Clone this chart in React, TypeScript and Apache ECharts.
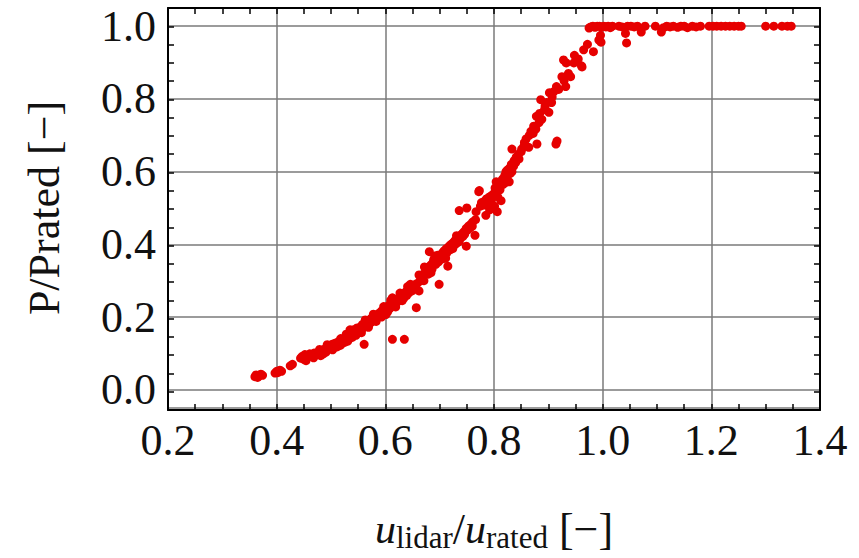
import React, { useEffect, useRef } from "react";
import * as echarts from "echarts";

// Axis settings (tick labels)
const xTicks = [0.2, 0.4, 0.6, 0.8, 1.0, 1.2, 1.4];
const yTicks = [0.0, 0.2, 0.4, 0.6, 0.8, 1.0];

const lowWind: [number, number][] = [
  [0.360, 0.036], [0.362, 0.041], [0.365, 0.034], [0.368, 0.039], [0.371, 0.043], [0.374, 0.040],
  [0.397, 0.046], [0.400, 0.051], [0.402, 0.047], [0.406, 0.054], [0.409, 0.051],
  [0.425, 0.066], [0.429, 0.070],
  [0.444, 0.087], [0.447, 0.092], [0.450, 0.084], [0.454, 0.080], [0.458, 0.095], [0.461, 0.099],
  [0.465, 0.092], [0.469, 0.101], [0.473, 0.097], [0.477, 0.104], [0.481, 0.094], [0.484, 0.108],
  [0.488, 0.112], [0.491, 0.104], [0.495, 0.116], [0.498, 0.121], [0.452, 0.097], [0.468, 0.088],
  [0.479, 0.111], [0.486, 0.099], [0.493, 0.124],
];

const partLoadLower: [number, number][] = [
  [0.500, 0.118], [0.502, 0.125], [0.503, 0.110], [0.505, 0.121], [0.507, 0.128],
  [0.510, 0.126], [0.511, 0.118], [0.513, 0.132], [0.515, 0.130], [0.517, 0.122],
  [0.520, 0.135], [0.521, 0.128], [0.523, 0.140], [0.525, 0.138], [0.526, 0.131],
  [0.528, 0.153], [0.529, 0.145], [0.532, 0.142], [0.533, 0.150], [0.535, 0.165], [0.536, 0.147],
  [0.539, 0.144], [0.540, 0.156], [0.543, 0.160], [0.544, 0.152], [0.547, 0.166], [0.548, 0.170],
  [0.550, 0.158], [0.551, 0.163], [0.553, 0.172], [0.555, 0.167], [0.558, 0.180], [0.559, 0.170],
  [0.560, 0.175], [0.561, 0.125], [0.562, 0.176], [0.564, 0.183], [0.566, 0.185], [0.567, 0.178],
  [0.570, 0.190], [0.571, 0.182], [0.573, 0.195], [0.574, 0.186], [0.576, 0.199], [0.577, 0.192],
  [0.580, 0.196], [0.581, 0.203], [0.584, 0.205], [0.585, 0.199], [0.588, 0.210], [0.589, 0.202],
  [0.591, 0.208], [0.592, 0.215], [0.594, 0.218], [0.596, 0.212], [0.598, 0.222], [0.599, 0.214],
  [0.601, 0.207], [0.602, 0.226], [0.605, 0.230], [0.606, 0.220], [0.608, 0.234], [0.609, 0.225],
  [0.611, 0.239], [0.612, 0.230], [0.613, 0.253], [0.613, 0.139], [0.616, 0.244], [0.617, 0.236],
  [0.620, 0.248], [0.621, 0.240], [0.624, 0.252], [0.625, 0.245], [0.628, 0.258], [0.629, 0.250],
  [0.631, 0.245], [0.632, 0.262], [0.635, 0.139], [0.636, 0.266], [0.638, 0.270], [0.639, 0.259],
  [0.642, 0.275], [0.643, 0.266], [0.645, 0.280], [0.646, 0.290], [0.648, 0.284], [0.649, 0.272],
  [0.652, 0.288], [0.653, 0.278], [0.657, 0.226], [0.658, 0.292], [0.662, 0.272], [0.662, 0.316],
  [0.663, 0.298], [0.518, 0.141], [0.531, 0.134], [0.541, 0.165], [0.546, 0.150], [0.556, 0.157],
  [0.563, 0.192], [0.569, 0.172], [0.578, 0.208], [0.583, 0.188], [0.593, 0.200], [0.597, 0.229],
  [0.604, 0.214], [0.610, 0.246], [0.619, 0.228], [0.627, 0.266], [0.634, 0.252], [0.641, 0.284],
];

const partLoadMiddle: [number, number][] = [
  [0.666, 0.305], [0.667, 0.312], [0.670, 0.318], [0.671, 0.300], [0.674, 0.322], [0.675, 0.330],
  [0.678, 0.335], [0.679, 0.318], [0.681, 0.380], [0.682, 0.340], [0.685, 0.345], [0.686, 0.332],
  [0.688, 0.350], [0.689, 0.358], [0.692, 0.355], [0.693, 0.345], [0.695, 0.362], [0.696, 0.370],
  [0.699, 0.290], [0.700, 0.365], [0.702, 0.372], [0.703, 0.360], [0.705, 0.360], [0.706, 0.378],
  [0.708, 0.382], [0.709, 0.370], [0.712, 0.388], [0.713, 0.376], [0.715, 0.340], [0.716, 0.392],
  [0.718, 0.396], [0.719, 0.385], [0.721, 0.400], [0.722, 0.392], [0.725, 0.405], [0.726, 0.398],
  [0.728, 0.410], [0.729, 0.400], [0.732, 0.415], [0.733, 0.405], [0.735, 0.420], [0.736, 0.408],
  [0.736, 0.493], [0.738, 0.425], [0.739, 0.418], [0.742, 0.430], [0.743, 0.422], [0.745, 0.435],
  [0.746, 0.428], [0.749, 0.444], [0.749, 0.395], [0.750, 0.500], [0.752, 0.440], [0.753, 0.450],
  [0.756, 0.445], [0.757, 0.455], [0.760, 0.450], [0.761, 0.462], [0.765, 0.425], [0.766, 0.468],
  [0.767, 0.490], [0.772, 0.545], [0.773, 0.548], [0.775, 0.505], [0.777, 0.515], [0.672, 0.338],
  [0.684, 0.322], [0.691, 0.368], [0.698, 0.352], [0.711, 0.362], [0.724, 0.388], [0.731, 0.424],
];

const partLoadUpper: [number, number][] = [
  [0.782, 0.518], [0.783, 0.508], [0.785, 0.480], [0.786, 0.525], [0.790, 0.512], [0.791, 0.530],
  [0.792, 0.495], [0.795, 0.520], [0.796, 0.535], [0.800, 0.540], [0.801, 0.505], [0.802, 0.555],
  [0.804, 0.572], [0.805, 0.545], [0.806, 0.490], [0.807, 0.530], [0.810, 0.560], [0.811, 0.550],
  [0.813, 0.520], [0.814, 0.575], [0.816, 0.580], [0.817, 0.565], [0.820, 0.590], [0.821, 0.570],
  [0.822, 0.600], [0.824, 0.585], [0.825, 0.605], [0.828, 0.572], [0.829, 0.610], [0.830, 0.595],
  [0.832, 0.620], [0.833, 0.600], [0.833, 0.662], [0.836, 0.615], [0.837, 0.630], [0.840, 0.625],
  [0.841, 0.640], [0.845, 0.648], [0.846, 0.635], [0.850, 0.655], [0.851, 0.662], [0.855, 0.670],
  [0.856, 0.680], [0.859, 0.690], [0.864, 0.667], [0.865, 0.700], [0.868, 0.711], [0.872, 0.705],
  [0.873, 0.725], [0.877, 0.717], [0.878, 0.752], [0.879, 0.676], [0.883, 0.735], [0.884, 0.760],
  [0.886, 0.798], [0.888, 0.744], [0.893, 0.770], [0.894, 0.780], [0.897, 0.790], [0.901, 0.763],
  [0.902, 0.817], [0.906, 0.790], [0.907, 0.805], [0.910, 0.820], [0.914, 0.676], [0.915, 0.834],
  [0.916, 0.684], [0.919, 0.826], [0.925, 0.861], [0.928, 0.907], [0.929, 0.850], [0.932, 0.834],
  [0.933, 0.899], [0.937, 0.870], [0.941, 0.861], [0.947, 0.899], [0.948, 0.920], [0.955, 0.910],
  [0.961, 0.891], [0.962, 0.888], [0.965, 0.935], [0.972, 0.950], [0.983, 0.930],
];

const ratedRegion: [number, number][] = [
  [0.975, 0.995], [0.978, 0.998], [0.982, 1.0], [0.986, 0.997], [0.990, 1.0], [0.993, 0.962],
  [0.994, 1.0], [0.996, 0.975], [0.997, 0.956], [0.998, 0.997], [1.002, 1.0], [1.006, 0.998],
  [1.010, 1.0], [1.014, 0.996], [1.018, 1.0], [1.030, 1.0], [1.036, 0.998], [1.042, 0.980],
  [1.044, 0.954], [1.046, 1.0], [1.052, 1.0], [1.058, 0.998], [1.064, 1.0], [1.071, 0.984],
  [1.078, 1.0], [1.097, 1.0], [1.108, 0.984], [1.112, 0.996], [1.118, 1.0], [1.124, 0.998],
  [1.130, 1.0], [1.138, 0.997], [1.144, 1.0], [1.150, 1.0], [1.156, 0.996], [1.165, 1.0],
  [1.172, 0.998], [1.180, 1.0], [1.196, 1.0], [1.203, 1.0], [1.210, 1.0], [1.218, 1.0],
  [1.226, 1.0], [1.234, 1.0], [1.242, 1.0], [1.250, 1.0], [1.255, 1.0], [1.300, 1.0],
  [1.315, 1.0], [1.330, 1.0], [1.340, 1.0], [1.347, 1.0],
];

const FONT = "'Liberation Serif', 'DejaVu Serif', serif";

export default function App() {
  const ref = useRef<HTMLDivElement>(null);
  useEffect(() => {
    if (!ref.current) return;
    const chart = echarts.init(ref.current, undefined, { renderer: "svg" });
    const gridPos = { left: 168, top: 8, right: 39, bottom: 148 };
    const xMin = xTicks[0];
    const xMax = xTicks[xTicks.length - 1];
    const yMin = -0.05;
    const yMax = 1.05;
    const tickAxisCommon = {
      axisLabel: { show: false },
      splitLine: { show: false },
      axisLine: { show: true, onZero: false, lineStyle: { color: "#000", width: 2 } },
      axisTick: { show: true, inside: true, length: 6, lineStyle: { color: "#000", width: 1.5 } },
    };
    const allPoints = [...lowWind, ...partLoadLower, ...partLoadMiddle, ...partLoadUpper, ...ratedRegion];
    chart.setOption({
      animation: false,
      backgroundColor: "#fff",
      grid: [
        { ...gridPos, containLabel: false },
        { ...gridPos, containLabel: false },
      ],
      xAxis: [
        {
          type: "value",
          gridIndex: 0,
          position: "bottom",
          min: xMin,
          max: xMax,
          interval: 0.2,
          axisLine: { show: false, onZero: false },
          axisTick: { show: false },
          splitLine: { show: true, lineStyle: { color: "#7a7a7a", width: 1.5 } },
          axisLabel: {
            show: true,
            margin: 10,
            fontFamily: FONT,
            fontSize: 44,
            color: "#111",
            formatter: (v: number) => v.toFixed(1),
          },
          name: "{u|u}{s|lidar}{n|/}{u|u}{s|rated}{n| [−]}",
          nameLocation: "middle",
          nameGap: 97,
          nameTextStyle: {
            fontFamily: FONT,
            color: "#111",
            rich: {
              u: { fontFamily: FONT, fontStyle: "italic", fontSize: 42, lineHeight: 48, verticalAlign: "middle", color: "#111" },
              n: { fontFamily: FONT, fontSize: 44, lineHeight: 48, verticalAlign: "middle", color: "#111" },
              s: { fontFamily: FONT, fontSize: 31, lineHeight: 26, verticalAlign: "bottom", color: "#111" },
            },
          },
        },
        { type: "value", gridIndex: 1, position: "bottom", min: xMin, max: xMax, interval: 0.05, ...tickAxisCommon },
        { type: "value", gridIndex: 1, position: "top", min: xMin, max: xMax, interval: 0.05, ...tickAxisCommon },
      ],
      yAxis: [
        {
          type: "value",
          gridIndex: 0,
          position: "left",
          min: yMin,
          max: yMax,
          minInterval: 0.2,
          maxInterval: 0.2,
          axisLine: { show: false, onZero: false },
          axisTick: { show: false },
          splitLine: { show: true, lineStyle: { color: "#7a7a7a", width: 1.5 } },
          axisLabel: {
            show: true,
            margin: 12,
            fontFamily: FONT,
            fontSize: 44,
            color: "#111",
            showMinLabel: false,
            showMaxLabel: false,
            formatter: (v: number) => {
              const hit = yTicks.find((t) => Math.abs(t - v) < 1e-6);
              return hit === undefined ? "" : hit.toFixed(1);
            },
          },
          name: "P/Prated [−]",
          nameLocation: "middle",
          nameGap: 102,
          nameTextStyle: { fontFamily: FONT, fontSize: 44, color: "#111" },
        },
        { type: "value", gridIndex: 1, position: "left", min: yMin, max: yMax, interval: 0.05, ...tickAxisCommon },
        { type: "value", gridIndex: 1, position: "right", min: yMin, max: yMax, interval: 0.05, ...tickAxisCommon },
      ],
      series: [
        {
          type: "scatter",
          xAxisIndex: 0,
          yAxisIndex: 0,
          data: allPoints,
          symbol: "circle",
          symbolSize: 9,
          itemStyle: { color: "#e60000", opacity: 1 },
          z: 3,
        },
      ],
    });
    return () => chart.dispose();
  }, []);
  return (
    <div
      ref={ref}
      style={{ position: "fixed", left: 0, top: 0, width: 859, height: 558, background: "#fff" }}
    />
  );
}
